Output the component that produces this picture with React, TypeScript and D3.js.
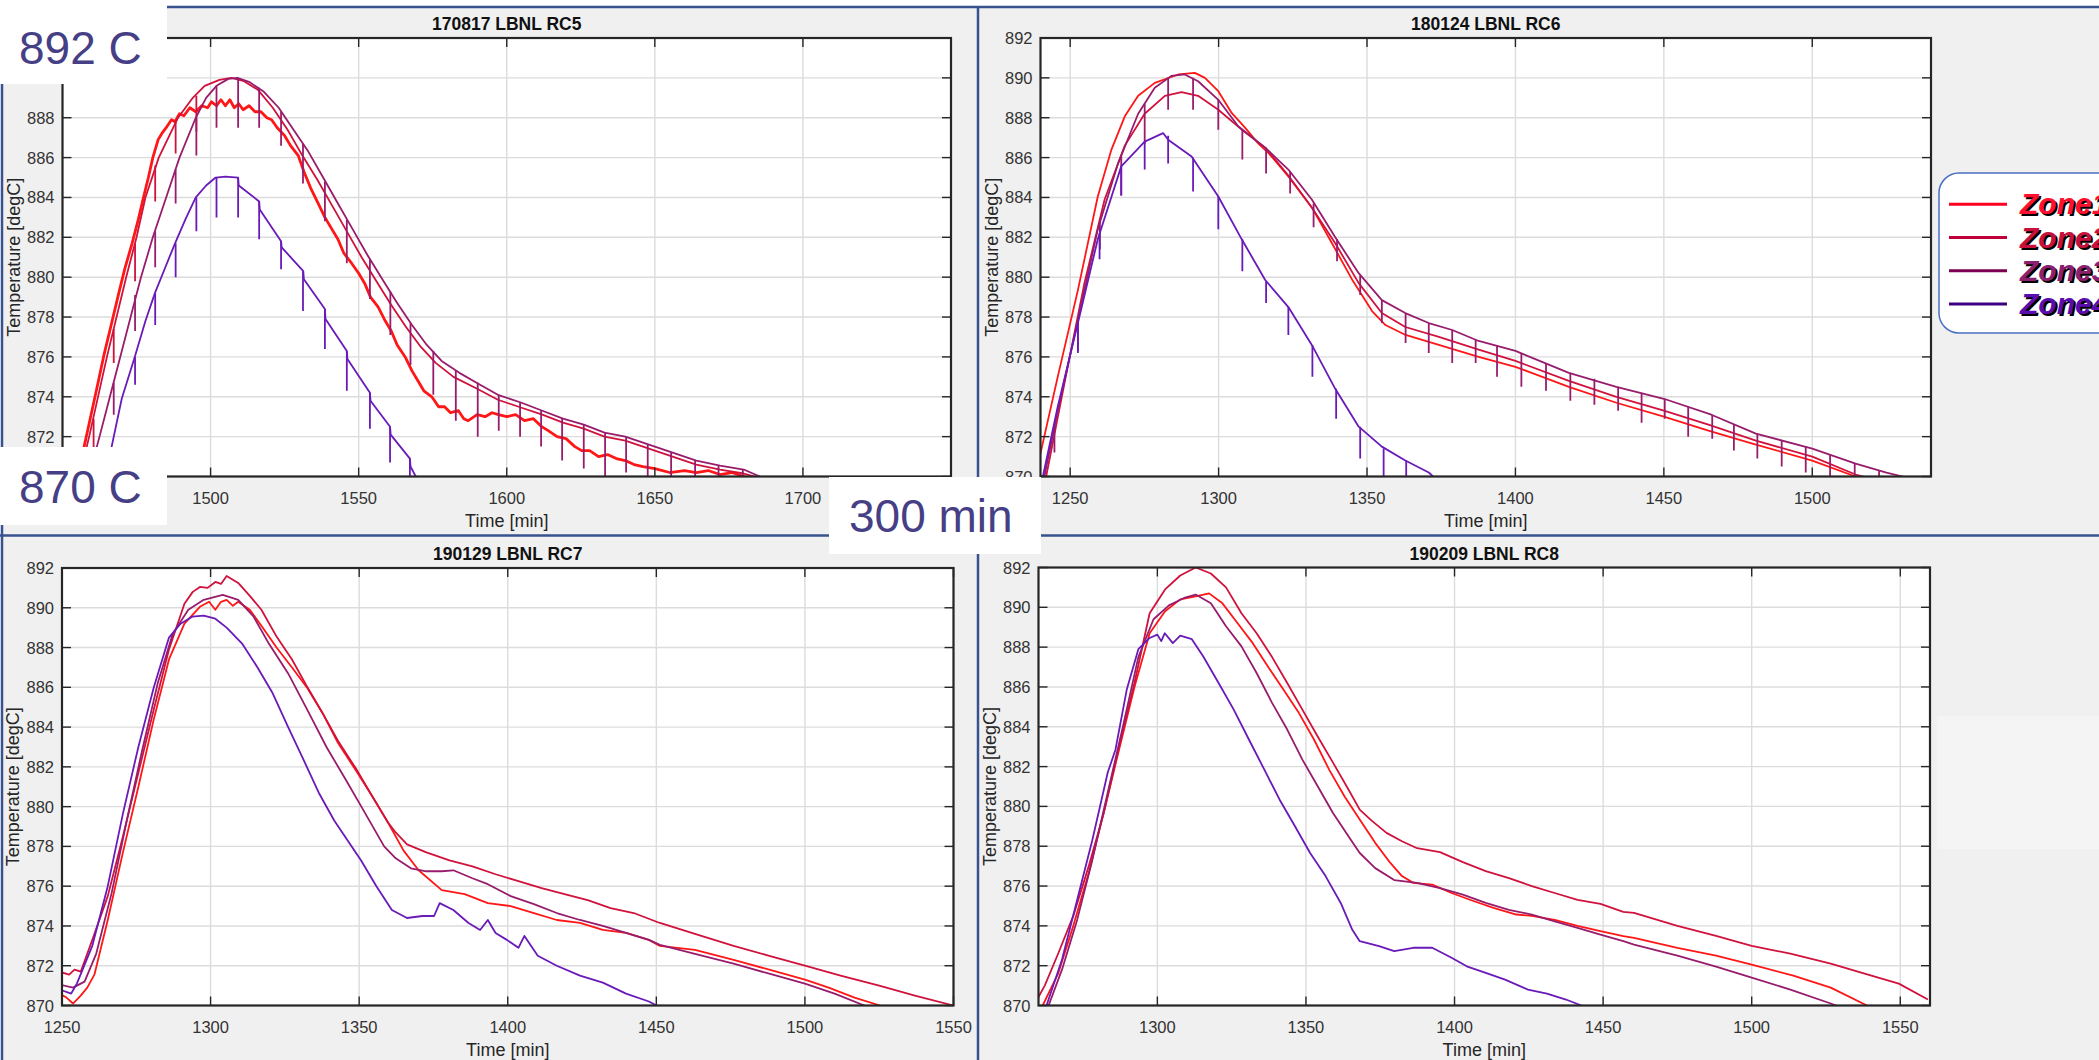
import * as d3 from "d3";
import React, { useEffect } from "react";

const FONT = "'Liberation Sans', Arial, Helvetica, sans-serif";

const zoneNames = ["Zone1", "Zone2", "Zone3", "Zone4"];
const zoneColors = ["#ff1616", "#d0123c", "#981c6c", "#6a1ab8"];
const legendLineColors = ["#ff0020", "#c00038", "#7c0052", "#3c0082"];
const legendTextColors = ["#ff1030", "#c8103c", "#8c2070", "#5a0cb0"];

const tempTicks = [870, 872, 874, 876, 878, 880, 882, 884, 886, 888, 890, 892];

// ---- 170817 LBNL RC5 ----
const rc5Ticks = [1450, 1500, 1550, 1600, 1650, 1700, 1750];
const rc5Zone1 = [
  [1455, 869.4], [1457.3, 871.5], [1459.5, 873.0], [1462, 874.7], [1464, 876.1], [1466.6, 877.7], [1469, 879.2],
  [1471, 880.4], [1473.5, 881.7], [1475.6, 882.9], [1477.5, 884.1], [1479, 885.0], [1480.5, 886.0], [1482.3, 886.9],
  [1483.5, 887.2], [1485, 887.5], [1486.8, 887.9], [1488, 887.8], [1489.5, 888.2], [1491, 888.1], [1493, 888.5],
  [1495, 888.3], [1497, 888.6], [1499, 888.5], [1500.3, 888.8], [1502, 888.6], [1503.5, 888.9], [1505, 888.6],
  [1506.5, 888.9], [1508, 888.5], [1509.5, 888.7], [1511, 888.4], [1513, 888.6], [1515, 888.3], [1517, 888.3],
  [1519, 888.0], [1520.6, 887.9], [1522.5, 887.5], [1525, 887.1], [1527, 886.6], [1529.6, 886.1], [1531.5, 885.3],
  [1534, 884.4], [1536, 883.8], [1538.6, 883.0], [1541, 882.4], [1543, 881.9], [1545, 881.2], [1547.6, 880.7],
  [1550, 880.2], [1552, 879.7], [1554, 879.0], [1556.6, 878.5], [1559, 877.8], [1561, 877.3], [1563, 876.6],
  [1565.7, 876.0], [1568, 875.3], [1570, 874.8], [1572, 874.3], [1574.7, 874.0], [1577, 873.5], [1579, 873.5],
  [1581, 873.2], [1583.7, 873.3], [1585.5, 872.9], [1587, 872.8], [1590, 873.1], [1592.7, 873.0], [1595, 873.2],
  [1597.2, 873.1], [1600, 873.0], [1603, 873.1], [1606, 872.8], [1609, 872.9], [1611.8, 872.5], [1614, 872.3],
  [1617, 872.0], [1620, 871.9], [1623, 871.5], [1625.3, 871.3], [1628, 871.3], [1631, 871.0], [1634, 871.1],
  [1637, 870.9], [1640, 870.8], [1643, 870.6], [1646, 870.5], [1650, 870.4], [1655, 870.2], [1660, 870.3],
  [1664, 870.2], [1668, 870.3], [1672, 870.1], [1676, 870.2], [1680, 870.0], [1686, 869.8],
];
const rc5Zone2 = [
  [1455, 869.5], [1459, 872.0], [1465, 876.0], [1471.5, 880.0], [1475, 882.0], [1478, 884.0], [1482.5, 886.0],
  [1489, 888.0], [1494, 889.0], [1498, 889.6], [1503, 889.9], [1507, 890.0], [1511, 889.85], [1516, 889.4],
  [1521, 888.5], [1526, 887.4], [1531, 886.1], [1536, 884.9], [1541, 883.6], [1546, 882.3], [1551, 881.0],
  [1556, 879.8], [1561, 878.6], [1566, 877.5], [1571, 876.5], [1576, 875.7], [1582, 875.0], [1590, 874.4],
  [1597, 873.85], [1605, 873.45], [1612, 873.1], [1619, 872.7], [1626, 872.4], [1633, 872.0], [1640, 871.8],
  [1648, 871.4], [1656, 871.0], [1664, 870.6], [1672, 870.35], [1680, 870.15], [1686, 869.9],
];
const rc5Zone3 = [
  [1458, 869.5], [1462.5, 872], [1466, 874], [1469.5, 876], [1473, 878], [1476.5, 880], [1480.5, 882],
  [1485, 884], [1489.5, 886], [1495, 888], [1498.5, 889], [1502, 889.6], [1506, 889.95], [1509, 890.0],
  [1513, 889.8], [1518, 889.3], [1523, 888.5], [1528, 887.4], [1533, 886.3], [1538, 885.0], [1543, 883.7],
  [1548, 882.4], [1553, 881.1], [1558, 879.9], [1563, 878.7], [1568, 877.6], [1573, 876.6], [1578, 875.8],
  [1584, 875.2], [1591, 874.6], [1597, 874.1], [1605, 873.7], [1612, 873.3], [1619, 872.9], [1626, 872.6],
  [1633, 872.2], [1640, 872.0], [1648, 871.6], [1656, 871.2], [1664, 870.8], [1672, 870.55], [1680, 870.35],
  [1687, 869.9],
];
const rc5Zone4 = [
  [1460, 869.5], [1466.6, 871.5], [1470, 873.9], [1474.4, 876.0], [1478, 877.8], [1481.2, 879.2], [1485, 880.6],
  [1488, 881.7], [1491.5, 882.9], [1495, 884.0], [1498.5, 884.6], [1501.7, 885.0], [1505, 885.05], [1509.3, 885.0],
  [1509.5, 884.6], [1516.4, 883.8], [1516.6, 883.4], [1523.8, 881.8], [1524, 881.5], [1531.3, 880.3],
  [1531.5, 879.9], [1538.6, 878.4], [1538.8, 877.9], [1546, 876.3], [1546.2, 875.9], [1553.8, 874.2],
  [1554, 873.8], [1560.6, 872.5], [1560.8, 872.1], [1567.3, 870.9], [1567.5, 870.5], [1570, 869.8],
];
// dips: [time, top, bottom]
const rc5Zone2Dips = [
  [1460.5, 872.9, 871.4], [1467.3, 877.4, 875.7], [1474.5, 881.7, 879.8], [1481.3, 885.6, 883.8],
  [1488.2, 887.8, 886.2], [1495.2, 889.1, 887.3],
];
const rc5Zone3Dips = [
  [1467.3, 874.7, 873.1], [1474.5, 879.1, 877.3], [1481.3, 882.3, 880.5], [1488.2, 885.4, 883.7],
  [1495.2, 888.0, 886.1], [1502, 889.6, 887.5], [1509.3, 890.0, 887.5], [1516.4, 889.5, 887.5],
  [1523.8, 888.3, 886.6], [1531.2, 886.7, 884.7], [1538.6, 884.8, 882.8], [1546, 882.9, 880.7],
  [1553.8, 880.9, 878.9], [1560.7, 879.3, 877.1], [1567.5, 877.7, 875.6], [1575.2, 876.3, 874.1],
  [1582.8, 875.3, 872.8], [1590.2, 874.7, 872.0], [1597.3, 874.1, 872.3], [1604.5, 873.7, 872.0],
  [1611.6, 873.3, 871.5], [1618.7, 872.9, 870.8], [1626, 872.6, 870.4], [1633.2, 872.2, 870.0],
  [1640.3, 872.0, 870.2], [1647.6, 871.6, 869.9], [1655.5, 871.2, 869.9], [1663.6, 870.8, 869.9],
  [1671.5, 870.55, 869.9], [1679.7, 870.35, 869.9],
];
const rc5Zone4Dips = [
  [1474.5, 876.0, 874.6], [1481.3, 879.2, 877.6], [1488.2, 881.7, 880.0], [1495.2, 884.0, 882.3],
  [1502, 885.0, 883.0], [1509.3, 885.0, 883.0], [1516.4, 883.8, 881.9], [1523.8, 881.8, 880.4],
  [1531.2, 880.3, 878.3], [1538.6, 878.4, 876.4], [1546, 876.3, 874.3], [1553.8, 874.2, 872.4],
  [1560.6, 872.5, 870.7], [1567.3, 870.9, 869.9],
];

// ---- 180124 LBNL RC6 ----
const rc6Ticks = [1250, 1300, 1350, 1400, 1450, 1500];
const rc6Zone1 = [
  [1239.6, 870.9], [1245.8, 875.0], [1252.6, 879.35], [1259.3, 884.05], [1263.9, 886.4], [1268.4, 888.07],
  [1272.9, 889.1], [1278.5, 889.75], [1286.4, 890.17], [1292, 890.25], [1295.4, 890.0], [1299.9, 889.33],
  [1304.4, 888.24], [1308.9, 887.5], [1313.4, 886.7], [1317, 886.2], [1323.5, 885.05], [1331.4, 883.5],
  [1338.2, 881.7], [1344.9, 879.9], [1351.7, 878.3], [1356.2, 877.6], [1363, 877.1], [1374.2, 876.6],
  [1387.6, 876.0], [1400, 875.5], [1418, 874.5], [1434, 873.7], [1450, 873.0], [1465, 872.3], [1481, 871.6],
  [1500, 870.8], [1514.6, 870.0], [1520, 869.8],
];
const rc6Zone2 = [
  [1241.9, 870], [1248.1, 874.7], [1254.8, 879.7], [1261.6, 883.9], [1268.4, 886.6], [1275.1, 888.2],
  [1281.9, 889.1], [1287.5, 889.28], [1293.1, 889.1], [1299.9, 888.4], [1307.8, 887.4], [1315.7, 886.5],
  [1323.5, 885.1], [1331.4, 883.5], [1339.3, 881.7], [1347.2, 879.7], [1355, 878.2], [1362.9, 877.5],
  [1374.2, 877.0], [1387.6, 876.37], [1400, 875.8], [1418, 874.8], [1434, 874.0], [1450, 873.3], [1465, 872.6],
  [1481, 871.8], [1500, 871.0], [1514.6, 870.1], [1522, 869.8],
];
const rc6Zone3 = [
  [1241.3, 870], [1245.8, 873.3], [1252.6, 877.85], [1259.3, 882.4], [1266.1, 885.7], [1272.9, 888.2],
  [1278.5, 889.5], [1284.1, 890.1], [1288.6, 890.17], [1293.1, 889.83], [1299.9, 888.9], [1306.6, 887.57],
  [1315.7, 886.5], [1323.5, 885.4], [1331.4, 883.9], [1339.3, 882.0], [1347.2, 880.2], [1355, 878.85],
  [1362.9, 878.2], [1370.8, 877.7], [1378.7, 877.35], [1387.6, 876.8], [1400, 876.3], [1418, 875.2],
  [1434, 874.5], [1450, 873.9], [1466, 873.1], [1481, 872.15], [1500, 871.4], [1514.6, 870.65], [1525, 870.2],
  [1533, 869.9],
];
const rc6Zone4 = [
  [1240.8, 870], [1245.8, 873.5], [1252.6, 877.7], [1259.3, 881.9], [1267.2, 885.56], [1275.1, 886.8],
  [1281.3, 887.23], [1283, 886.9], [1290.9, 886.06], [1299.9, 884.05], [1307.8, 881.9], [1315.7, 879.86],
  [1323.5, 878.5], [1331.4, 876.6], [1339.3, 874.4], [1347.2, 872.5], [1355, 871.5], [1362.9, 870.8],
  [1370.8, 870.2], [1373, 869.9],
];
const rc6Zone3Dips = [
  [1244.7, 872.6, 871.2], [1252.6, 877.85, 876.3], [1260, 882.8, 881.4], [1267.2, 886.1, 884.1],
  [1275.1, 888.7, 886.7], [1283, 890.0, 888.4], [1291.4, 890.0, 888.4], [1299.9, 888.9, 887.4],
  [1308, 887.4, 885.9], [1316, 886.5, 885.2], [1324.1, 885.3, 884.2], [1332, 883.7, 882.5],
  [1339.9, 881.9, 880.8], [1347.7, 880.1, 879.1], [1355, 878.85, 877.7], [1363, 878.2, 876.7],
  [1370.8, 877.7, 876.2], [1378.7, 877.35, 875.7], [1386.6, 876.85, 875.7], [1393.8, 876.6, 875.0],
  [1402, 876.2, 874.5], [1410.3, 875.7, 874.3], [1418.5, 875.2, 873.8], [1426.6, 874.9, 873.6],
  [1434.6, 874.5, 873.3], [1442.5, 874.2, 872.7], [1450.3, 873.9, 872.9], [1458.2, 873.5, 872.0],
  [1466.3, 873.1, 871.9], [1473.6, 872.6, 871.3], [1481.5, 872.15, 870.9], [1489.7, 871.8, 870.5],
  [1497.8, 871.5, 870.2], [1506, 871.1, 869.9], [1514.3, 870.65, 869.9], [1522.5, 870.3, 869.9],
];
const rc6Zone4Dips = [
  [1252.6, 877.7, 876.2], [1259.9, 882.2, 880.9], [1267.2, 885.56, 884.1], [1275.1, 886.8, 885.4],
  [1283, 887.1, 885.7], [1291.4, 886.0, 884.3], [1299.9, 884.05, 882.4], [1308, 881.9, 880.3],
  [1316, 879.8, 878.7], [1323.5, 878.5, 877.1], [1331.6, 876.6, 875.0], [1339.6, 874.4, 872.9],
  [1347.7, 872.5, 870.9], [1355.6, 871.4, 869.9], [1363.2, 870.8, 869.9],
];

// ---- 190129 LBNL RC7 ----
const rc7Ticks = [1250, 1300, 1350, 1400, 1450, 1500, 1550];
const rc7Zone1 = [
  [1249.2, 870.6], [1251.5, 870.4], [1253.7, 870.1], [1256.3, 870.5], [1258.5, 870.9], [1260.9, 871.55],
  [1265.4, 874.3], [1270.5, 877.7], [1275.7, 881.0], [1280.9, 884.4], [1286, 887.4], [1291.2, 889.2],
  [1296.4, 890.05], [1299.5, 890.3], [1301.6, 889.9], [1303.5, 890.3], [1305.4, 890.4], [1307.5, 890.1],
  [1309.3, 890.3], [1313.2, 889.9], [1317.1, 889.1], [1322.2, 888.0], [1327.4, 887.0], [1332.6, 885.95],
  [1337.7, 884.7], [1342.9, 883.2], [1349.4, 881.7], [1354.5, 880.5], [1359.7, 879.2], [1364.9, 877.8],
  [1370, 876.8], [1377.8, 875.8], [1385.5, 875.6], [1393.3, 875.15], [1401, 875.0], [1408.8, 874.65],
  [1416.5, 874.3], [1424.3, 874.15], [1432, 873.8], [1439.8, 873.65], [1447.5, 873.3], [1451.2, 873.0],
  [1463, 872.8], [1476, 872.3], [1488, 871.8], [1500, 871.3], [1508, 870.9], [1516.7, 870.4], [1525.3, 870.0],
];
const rc7Zone2 = [
  [1249.2, 871.7], [1252.4, 871.55], [1254.2, 871.8], [1256.3, 871.7], [1260.2, 873.3], [1265.4, 875.5],
  [1270.5, 878.5], [1275.7, 881.7], [1280.9, 884.9], [1286, 887.9], [1291.2, 890.2], [1294, 890.8],
  [1296.4, 891.05], [1299, 891.0], [1301.6, 891.3], [1303.5, 891.2], [1305.4, 891.6], [1309.3, 891.25],
  [1313.2, 890.6], [1317.1, 889.9], [1322.2, 888.55], [1327.4, 887.4], [1332.6, 886.0], [1337.7, 884.7],
  [1342.9, 883.3], [1349.4, 881.8], [1354.5, 880.5], [1359.7, 879.2], [1362.3, 878.7], [1366.1, 878.1],
  [1372.6, 877.7], [1380.4, 877.3], [1388.1, 877.0], [1395.9, 876.6], [1403.6, 876.25], [1411.4, 875.9],
  [1419.1, 875.6], [1426.9, 875.3], [1434.6, 874.9], [1442.4, 874.65], [1451.2, 874.15], [1463, 873.6],
  [1476, 873.0], [1488, 872.5], [1500, 872.0], [1512, 871.5], [1525, 871.0], [1537, 870.5], [1550, 870.0],
];
const rc7Zone3 = [
  [1249.2, 871.05], [1253.7, 870.9], [1257.6, 871.2], [1261.5, 872.6], [1266.7, 875.65], [1271.8, 879.3],
  [1277, 882.85], [1282.2, 886.2], [1287.3, 888.7], [1292.5, 889.9], [1297.7, 890.4], [1304.1, 890.65],
  [1309.3, 890.4], [1314.5, 889.55], [1319.6, 888.2], [1326.1, 886.7], [1332.6, 884.85], [1339, 883.0],
  [1345.5, 881.35], [1351.9, 879.7], [1358.4, 878.0], [1362.3, 877.4], [1367.4, 876.9], [1372.6, 876.75],
  [1377.8, 876.75], [1381.7, 876.8], [1388.1, 876.4], [1393.3, 876.1], [1401, 875.5], [1408.8, 875.1],
  [1416.5, 874.65], [1424.3, 874.3], [1432, 874.0], [1439.8, 873.65], [1447.5, 873.3], [1451.2, 873.05],
  [1463, 872.6], [1476, 872.1], [1488, 871.6], [1500, 871.1], [1510, 870.6], [1520, 870.0],
];
const rc7Zone4 = [
  [1249.2, 870.8], [1253.1, 870.6], [1255, 871.1], [1260.2, 873.0], [1265.4, 876.0], [1270.5, 879.65],
  [1275.7, 883.0], [1280.9, 886.0], [1286, 888.5], [1289.9, 889.2], [1293.8, 889.55], [1297.7, 889.6],
  [1301.6, 889.45], [1305.4, 889.0], [1310.6, 888.2], [1315.8, 887.0], [1320.9, 885.7], [1326.1, 884.0],
  [1331.3, 882.35], [1336.4, 880.7], [1341.6, 879.3], [1346.8, 878.15], [1350.6, 877.3], [1355.8, 876.0],
  [1361, 874.8], [1366.1, 874.4], [1371.3, 874.5], [1375.2, 874.5], [1377.1, 875.15], [1381.7, 874.8],
  [1386.8, 874.15], [1390.7, 873.8], [1393.3, 874.3], [1395.9, 873.65], [1399.7, 873.3], [1403.6, 872.9],
  [1405.6, 873.5], [1410.1, 872.5], [1416.5, 872.0], [1424.3, 871.5], [1432, 871.15], [1439.8, 870.6],
  [1447.5, 870.2], [1450.1, 870.0],
];

// ---- 190209 LBNL RC8 ----
const rc8Ticks = [1300, 1350, 1400, 1450, 1500, 1550];
const rc8Zone1 = [
  [1261.4, 870], [1266.6, 871.6], [1271.7, 874.0], [1276.9, 876.66], [1282, 879.7], [1287.1, 882.85],
  [1292.3, 886.0], [1297.4, 888.7], [1302.6, 889.8], [1307.7, 890.4], [1312.9, 890.55], [1317.4, 890.7],
  [1321.9, 890.2], [1327, 889.2], [1332.1, 888.2], [1337.3, 887.0], [1342.4, 885.87], [1347.6, 884.7],
  [1352.7, 883.36], [1357.8, 881.85], [1363, 880.5], [1368.1, 879.34], [1373.3, 878.17], [1378.4, 877.16],
  [1382.3, 876.5], [1386.1, 876.16], [1392.5, 876.07], [1399, 875.65], [1405.4, 875.3], [1413.1, 874.9],
  [1420.8, 874.57], [1426, 874.5], [1433.7, 874.3], [1441.4, 874.0], [1449.1, 873.73], [1456.8, 873.48],
  [1460.4, 873.4], [1475, 872.9], [1488, 872.5], [1500, 872.05], [1514, 871.5], [1526.6, 870.9], [1538.8, 870.0],
];
const rc8Zone2 = [
  [1259.9, 870.4], [1262.1, 871.0], [1266.6, 872.6], [1271.7, 874.5], [1276.9, 877.0], [1282, 879.7],
  [1287.1, 883.0], [1292.3, 886.2], [1297.4, 889.7], [1302.6, 890.9], [1307.7, 891.6], [1312.9, 892.0],
  [1318, 891.7], [1323.1, 891.0], [1328.3, 889.7], [1333.4, 888.7], [1338.6, 887.5], [1343.7, 886.2],
  [1348.8, 884.86], [1354, 883.5], [1359.1, 882.2], [1364.3, 880.85], [1368.1, 879.84], [1372, 879.3],
  [1377.1, 878.67], [1382.3, 878.25], [1387.4, 877.9], [1395.1, 877.7], [1402.8, 877.2], [1410.5, 876.75],
  [1418.3, 876.4], [1426, 876.0], [1433.7, 875.65], [1441.4, 875.3], [1449.1, 875.1], [1456.8, 874.7],
  [1460.4, 874.65], [1475, 874.0], [1488, 873.5], [1500, 873.0], [1513, 872.6], [1526.6, 872.1],
  [1538, 871.6], [1549.5, 871.1], [1559.3, 870.3],
];
const rc8Zone3 = [
  [1263.4, 870], [1267.9, 871.8], [1273, 874.3], [1278.1, 877.3], [1283.3, 880.7], [1288.4, 884.0],
  [1293.6, 887.5], [1298.7, 889.4], [1303.9, 890.1], [1309, 890.47], [1312.9, 890.64], [1318, 890.2],
  [1323.1, 889.05], [1328.3, 888.04], [1333.4, 886.7], [1338.6, 885.2], [1343.7, 883.86], [1348.8, 882.35],
  [1354, 881.0], [1359.1, 879.67], [1364.3, 878.5], [1368.1, 877.66], [1373.3, 876.9], [1379.7, 876.3],
  [1387.4, 876.16], [1395.1, 875.9], [1402.8, 875.57], [1410.5, 875.15], [1418.3, 874.8], [1426, 874.57],
  [1433.7, 874.23], [1441.4, 873.9], [1449.1, 873.56], [1456.8, 873.23], [1460.4, 873.06], [1475, 872.5],
  [1488, 871.95], [1500, 871.4], [1513, 870.8], [1526.6, 870.1], [1530, 869.9],
];
const rc8Zone4 = [
  [1262.7, 870], [1267.9, 872.3], [1273, 875.3], [1278.1, 878.3], [1283.3, 881.7], [1285.9, 882.85],
  [1289.7, 885.87], [1293.6, 887.9], [1297.4, 888.46], [1300, 888.63], [1301.3, 888.3], [1302.5, 888.7],
  [1305.2, 888.2], [1307.7, 888.58], [1311.6, 888.4], [1315.4, 887.54], [1320.6, 886.2], [1325.7, 884.86],
  [1330.8, 883.36], [1336, 881.85], [1341.1, 880.35], [1346.3, 879.0], [1351.4, 877.66], [1356.6, 876.5],
  [1361.7, 875.15], [1365.6, 873.8], [1368.1, 873.23], [1374.6, 872.98], [1379.7, 872.73], [1386.1, 872.9],
  [1392.5, 872.9], [1399, 872.4], [1404.1, 871.97], [1410.5, 871.64], [1417, 871.3], [1424.7, 870.8],
  [1431.1, 870.6], [1437.5, 870.3], [1442.7, 870],
];

const panels = [
  {
    id: "rc5", title: "170817 LBNL RC5", domain: [1450, 1750], ticks: rc5Ticks,
    frame: { left: 62.5, top: 38, right: 951, bottom: 476.5 },
    series: [rc5Zone1, rc5Zone2, rc5Zone3, rc5Zone4],
    dips: [[], rc5Zone2Dips, rc5Zone3Dips, rc5Zone4Dips],
    noisy: true,
    // labels that sit under the pasted note boxes
    hiddenX: [1450, 1750],
    hiddenY: [870, 890, 892],
  },
  {
    id: "rc6", title: "180124 LBNL RC6", domain: [1240, 1540], ticks: rc6Ticks,
    frame: { left: 1040.5, top: 38, right: 1931, bottom: 476.5 },
    series: [rc6Zone1, rc6Zone2, rc6Zone3, rc6Zone4],
    dips: [[], [], rc6Zone3Dips, rc6Zone4Dips],
    hiddenX: [],
    hiddenY: [],
  },
  {
    id: "rc7", title: "190129 LBNL RC7", domain: [1250, 1550], ticks: rc7Ticks,
    frame: { left: 62, top: 568, right: 953.5, bottom: 1005.5 },
    series: [rc7Zone1, rc7Zone2, rc7Zone3, rc7Zone4],
    dips: [[], [], [], []],
    hiddenX: [],
    hiddenY: [],
  },
  {
    id: "rc8", title: "190209 LBNL RC8", domain: [1260, 1560], ticks: rc8Ticks,
    frame: { left: 1038.5, top: 567.5, right: 1930, bottom: 1005.5 },
    series: [rc8Zone1, rc8Zone2, rc8Zone3, rc8Zone4],
    dips: [[], [], [], []],
    hiddenX: [],
    hiddenY: [],
  },
];

function Panel({ p }: { p: any }) {
  const f = p.frame;
  const x = d3.scaleLinear().domain(p.domain).range([f.left, f.right]);
  const y = d3.scaleLinear().domain([870, 892]).range([f.bottom, f.top]);
  const line = d3.line<number[]>().x((d) => x(d[0])).y((d) => y(d[1]));
  const cx = (f.left + f.right) / 2;
  const cy = (f.top + f.bottom) / 2;
  const tickLen = 9;
  return (
    <g>
      <defs>
        <clipPath id={"clip-" + p.id}>
          <rect x={f.left} y={f.top} width={f.right - f.left} height={f.bottom - f.top} />
        </clipPath>
      </defs>
      <rect x={f.left} y={f.top} width={f.right - f.left} height={f.bottom - f.top} fill="#ffffff" />
      {/* grid */}
      {p.ticks.map((t: number) => (
        <line key={"gx" + t} x1={x(t)} x2={x(t)} y1={f.top} y2={f.bottom} stroke="#dcdcdc" strokeWidth={1.4} />
      ))}
      {tempTicks.map((t) => (
        <line key={"gy" + t} x1={f.left} x2={f.right} y1={y(t)} y2={y(t)} stroke="#dcdcdc" strokeWidth={1.4} />
      ))}
      {/* series */}
      <g clipPath={`url(#clip-${p.id})`} fill="none" strokeLinejoin="round">
        {p.series.map((s: number[][], i: number) => (
          <g key={"s" + i}>
            <path
              d={line(s) || ""}
              stroke={zoneColors[i]}
              strokeWidth={p.noisy && i === 0 ? 2.8 : 1.8}
            />
            {p.dips[i].map((d: number[], j: number) => (
              <line
                key={"d" + j}
                x1={x(d[0])}
                x2={x(d[0])}
                y1={y(d[1])}
                y2={y(d[2])}
                stroke={zoneColors[i]}
                strokeWidth={1.8}
              />
            ))}
          </g>
        ))}
      </g>
      {/* ticks */}
      {p.ticks.map((t: number) => (
        <g key={"tx" + t} stroke="#262626" strokeWidth={1.4}>
          <line x1={x(t)} x2={x(t)} y1={f.bottom} y2={f.bottom - tickLen} />
          <line x1={x(t)} x2={x(t)} y1={f.top} y2={f.top + tickLen} />
        </g>
      ))}
      {tempTicks.map((t) => (
        <g key={"ty" + t} stroke="#262626" strokeWidth={1.4}>
          <line x1={f.left} x2={f.left + tickLen} y1={y(t)} y2={y(t)} />
          <line x1={f.right} x2={f.right - tickLen} y1={y(t)} y2={y(t)} />
        </g>
      ))}
      <rect
        x={f.left}
        y={f.top}
        width={f.right - f.left}
        height={f.bottom - f.top}
        fill="none"
        stroke="#262626"
        strokeWidth={2.2}
      />
      {/* labels */}
      <g fontFamily={FONT} fontSize={16.5} fill="#333333">
        {p.ticks
          .filter((t: number) => !p.hiddenX.includes(t))
          .map((t: number) => (
            <text key={"lx" + t} x={x(t)} y={f.bottom + 27} textAnchor="middle">
              {t}
            </text>
          ))}
        {tempTicks
          .filter((t) => !p.hiddenY.includes(t))
          .map((t) => (
            <text key={"ly" + t} x={f.left - 8} y={y(t) + 6} textAnchor="end">
              {t}
            </text>
          ))}
      </g>
      <text x={cx} y={f.bottom + 50} textAnchor="middle" fontFamily={FONT} fontSize={18} fill="#262626">
        Time [min]
      </text>
      <text
        transform={`translate(${f.left - 43},${cy}) rotate(-90)`}
        textAnchor="middle"
        fontFamily={FONT}
        fontSize={18}
        fill="#262626"
      >
        Temperature [degC]
      </text>
      <text x={cx} y={f.top - 8} textAnchor="middle" fontFamily={FONT} fontSize={17.5} fontWeight="bold" fill="#111">
        {p.title}
      </text>
    </g>
  );
}

function Legend() {
  const x0 = 1939;
  const y0 = 173;
  const rows = d3.scaleLinear().domain([0, 3]).range([204.3, 304]);
  return (
    <g>
      <rect x={x0} y={y0} width={200} height={160} rx={20} fill="#ffffff" stroke="#4a70c0" strokeWidth={1.5} />
      {zoneNames.map((n, i) => (
        <g key={n} fontFamily={FONT} fontSize={30} fontWeight="bold" fontStyle="italic">
          <line x1={1949} x2={2007} y1={rows(i)} y2={rows(i)} stroke={legendLineColors[i]} strokeWidth={3} />
          <text x={2022} y={rows(i) + 12} fill="#000">
            {n}
          </text>
          <text x={2020} y={rows(i) + 10} fill={legendTextColors[i]}>
            {n}
          </text>
        </g>
      ))}
    </g>
  );
}

export default function App() {
  useEffect(() => {
    document.body.style.margin = "0";
    document.body.style.background = "#ffffff";
  }, []);

  const blue = "#37528f";
  const note = { fontFamily: FONT, fontSize: 46, fill: "#463f85" };

  return (
    <svg width={2099} height={1060} viewBox="0 0 2099 1060" style={{ display: "block" }}>
      <rect x={0} y={0} width={2099} height={1060} fill="#ffffff" />
      <rect x={2} y={7} width={2097} height={1053} fill="#f0f0f0" />
      <rect x={1937} y={716} width={162} height={133} fill="#f4f4f4" />
      {panels.map((p) => (
        <Panel key={p.id} p={p} />
      ))}
      <Legend />
      {/* slide frames */}
      <g stroke={blue} strokeWidth={2.5}>
        <line x1={0} x2={2099} y1={7} y2={7} />
        <line x1={0} x2={2099} y1={535.5} y2={535.5} />
        <line x1={978} x2={978} y1={7} y2={1060} />
        <line x1={2} x2={2} y1={7} y2={1060} />
      </g>
      {/* annotations */}
      <rect x={0} y={0} width={167} height={84} fill="#ffffff" />
      <text x={19} y={64} {...note}>
        892 C
      </text>
      <rect x={0} y={447} width={167} height={78} fill="#ffffff" />
      <text x={19} y={503} {...note}>
        870 C
      </text>
      <rect x={829} y={477} width={212} height={77} fill="#ffffff" />
      <text x={849} y={532} {...note}>
        300 min
      </text>
    </svg>
  );
}
